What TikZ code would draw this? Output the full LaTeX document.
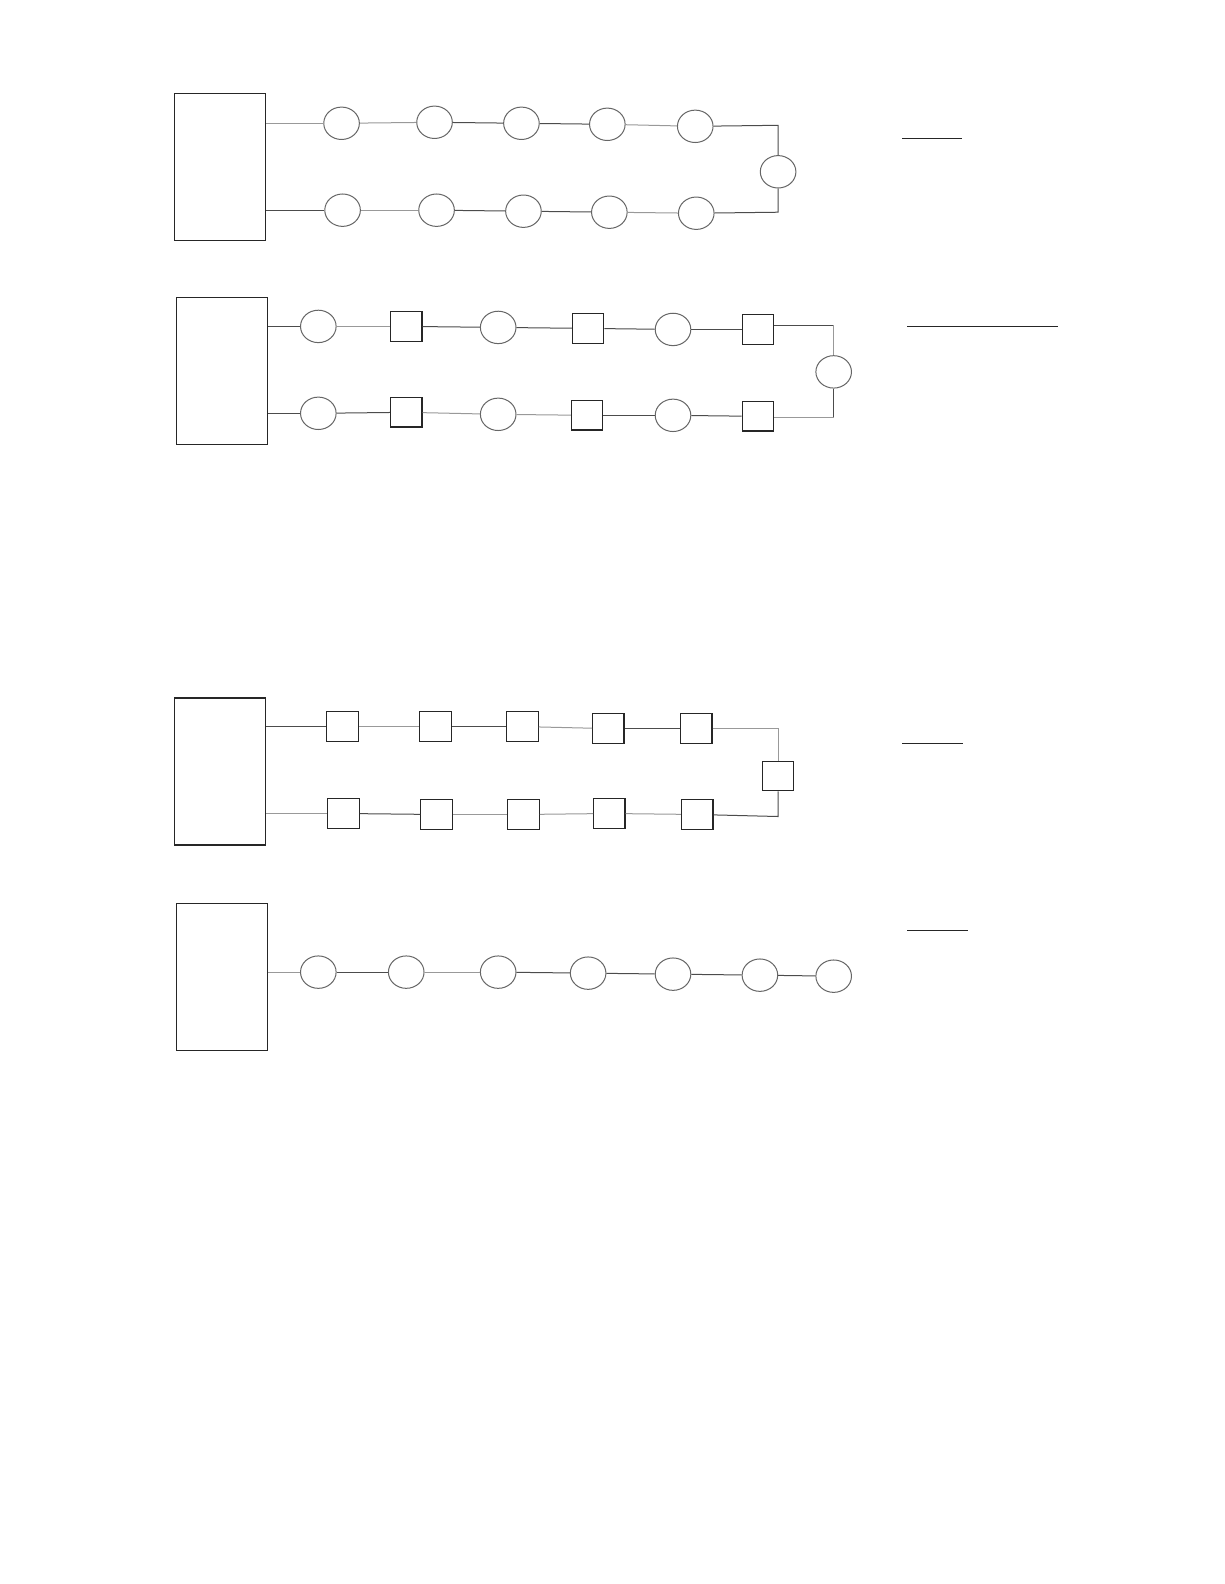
\documentclass[tikz,border=0pt]{standalone}
\usetikzlibrary{shapes.geometric}
\begin{document}
\begin{tikzpicture}[x=0.50525pt,y=-0.50525pt,
  panel/.style={draw=black!85,line width=0.6pt,minimum width=45.5pt,minimum height=73.5pt,inner sep=0pt},
  lamp/.style={draw=black!60,ellipse,line width=0.5pt,minimum width=17.8pt,minimum height=16.2pt,inner sep=0pt},
  dev/.style={draw=black!85,line width=0.6pt,minimum width=15.7pt,minimum height=14.7pt,inner sep=0pt},
  wire/.style={draw=black!70,line width=0.5pt},
  wirel/.style={draw=black!40,line width=0.5pt},
  uline/.style={draw=black!85,line width=0.7pt}]
\useasboundingbox (0,0) rectangle (1211.3,1567.5);
\fill[white] (0,0) rectangle (1211.3,1567.5);
% ---------- Diagram 1 ----------
\node[panel] (p1) at (217.5,165) {};
\foreach \n/\x/\y in {a/338/122,b/430/121,c/516/122,d/601/123,e/688/125}
  \node[lamp] (t1\n) at (\x,\y) {};
\foreach \n/\x/\y in {a/339/208,b/432/208,c/518/209,d/603/210,e/689/211}
  \node[lamp] (b1\n) at (\x,\y) {};
\node[lamp] (r1) at (770,170) {};
\coordinate (p1t) at (263,122);
\coordinate (p1b) at (263,208);
\coordinate (c1a) at (770,124);
\coordinate (c1b) at (770,210);
\draw[wirel] (p1t) -- (t1a);
\draw[wirel] (t1a) -- (t1b);
\draw[wire] (t1b) -- (t1c);
\draw[wire] (t1c) -- (t1d);
\draw[wirel] (t1d) -- (t1e);
\draw[wire] (t1e) -- (c1a) -- (r1);
\draw[wire] (r1) -- (c1b) -- (b1e);
\draw[wirel] (b1e) -- (b1d);
\draw[wire] (b1d) -- (b1c);
\draw[wire] (b1c) -- (b1b);
\draw[wirel] (b1b) -- (b1a);
\draw[wire] (p1b) -- (b1a);
\coordinate (u1a) at (893,137); \coordinate (u1b) at (952,137);
\draw[uline] (u1a) -- (u1b);
% ---------- Diagram 2 ----------
\node[panel] (p2) at (220,367.5) {};
\node[lamp] (t2a) at (315,323) {};
\node[dev]  (t2b) at (402,323) {};
\node[lamp] (t2c) at (493,324) {};
\node[dev]  (t2d) at (582,325) {};
\node[lamp] (t2e) at (666,326) {};
\node[dev]  (t2f) at (750,326) {};
\node[lamp] (b2a) at (315,409) {};
\node[dev]  (b2b) at (402,408) {};
\node[lamp] (b2c) at (493,410) {};
\node[dev]  (b2d) at (581,411) {};
\node[lamp] (b2e) at (666,411) {};
\node[dev]  (b2f) at (750,412) {};
\node[lamp] (r2) at (825,368) {};
\coordinate (p2t) at (265,323);
\coordinate (p2b) at (265,409);
\coordinate (c2a) at (825,322);
\coordinate (c2b) at (825,413);
\draw[wire] (p2t) -- (t2a);
\draw[wirel] (t2a) -- (t2b);
\draw[wire] (t2b) -- (t2c);
\draw[wire] (t2c) -- (t2d);
\draw[wire] (t2d) -- (t2e);
\draw[wire] (t2e) -- (t2f);
\draw[wire] (t2f.east |- c2a) -- (c2a);
\draw[wirel] (c2a) -- (r2);
\draw[wire] (r2) -- (c2b);
\draw[wirel] (c2b) -- (b2f.east |- c2b);
\draw[wire] (b2f) -- (b2e);
\draw[wire] (b2e) -- (b2d);
\draw[wirel] (b2d) -- (b2c);
\draw[wirel] (b2c) -- (b2b);
\draw[wire] (b2b) -- (b2a);
\draw[wire] (p2b) -- (b2a);
\coordinate (u2a) at (898,323); \coordinate (u2b) at (1047,323);
\draw[uline] (u2a) -- (u2b);
% ---------- Diagram 3 ----------
\node[panel] (p3) at (217.5,763.5) {};
\foreach \n/\x/\y in {a/339/719,b/431/719,c/517/719,d/602/721,e/689/721}
  \node[dev] (t3\n) at (\x,\y) {};
\foreach \n/\x/\y in {a/340/805,b/432/806,c/518/806,d/603/805,e/690/806}
  \node[dev] (b3\n) at (\x,\y) {};
\node[dev] (r3) at (770,768) {};
\coordinate (p3t) at (263,719);
\coordinate (p3b) at (263,805);
\coordinate (c3a) at (770,721);
\coordinate (c3b) at (770,808);
\draw[wire] (p3t) -- (t3a);
\draw[wirel] (t3a) -- (t3b);
\draw[wire] (t3b) -- (t3c);
\draw[wirel] (t3c) -- (t3d);
\draw[wire] (t3d) -- (t3e);
\draw[wirel] (t3e) -- (c3a) -- (r3);
\draw[wire] (r3) -- (c3b) -- (b3e);
\draw[wirel] (b3e) -- (b3d);
\draw[wirel] (b3d) -- (b3c);
\draw[wirel] (b3c) -- (b3b);
\draw[wire] (b3b) -- (b3a);
\draw[wirel] (p3b) -- (b3a);
\coordinate (u3a) at (893,736); \coordinate (u3b) at (953,736);
\draw[uline] (u3a) -- (u3b);
% ---------- Diagram 4 ----------
\node[panel] (p4) at (220,966.5) {};
\foreach \n/\x/\y in {a/315/962,b/402/962,c/493/962,d/582/963,e/666/964,f/752/965,g/825/966}
  \node[lamp] (s4\n) at (\x,\y) {};
\coordinate (p4m) at (265,962);
\draw[wirel] (p4m) -- (s4a);
\draw[wire] (s4a) -- (s4b);
\draw[wirel] (s4b) -- (s4c);
\draw[wire] (s4c) -- (s4d);
\draw[wire] (s4d) -- (s4e);
\draw[wire] (s4e) -- (s4f);
\draw[wire] (s4f) -- (s4g);
\coordinate (u4a) at (898,921); \coordinate (u4b) at (958,921);
\draw[uline] (u4a) -- (u4b);
\end{tikzpicture}
\end{document}
